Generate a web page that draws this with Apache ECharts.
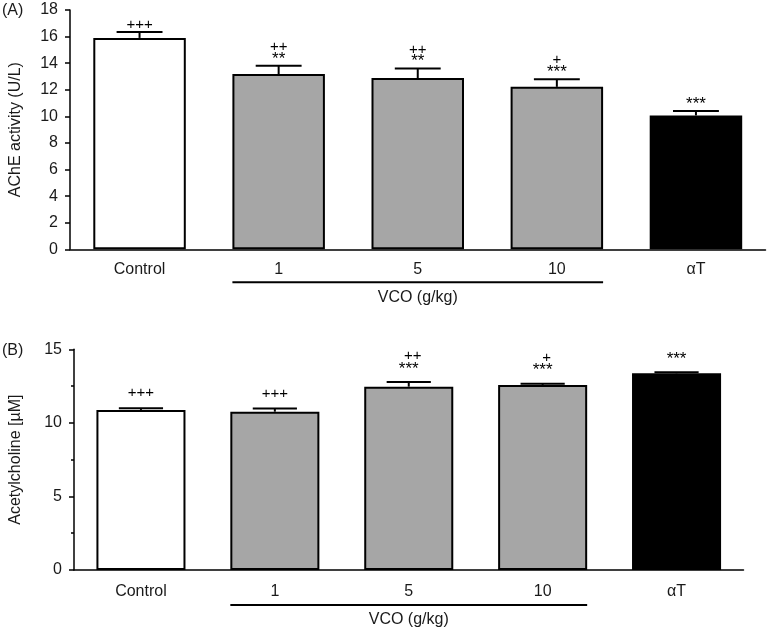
<!DOCTYPE html>
<html>
<head>
<meta charset="utf-8">
<script src="https://cdn.jsdelivr.net/npm/echarts@6/dist/echarts.min.js"></script>
<style>
html,body{margin:0;padding:0;background:#fff;}
#c{width:767px;height:630px;}
</style>
</head>
<body>
<div id="c"></div>
<script>
// ---- data ----
const categories = ['Control', '1', '5', '10', 'αT'];
const acheMean = [15.9, 13.18, 12.88, 12.22, 10.07];
const acheErr = [0.45, 0.62, 0.72, 0.58, 0.34];
const acheStars = ['', '**', '**', '***', '***'];
const achePlus = ['+++', '++', '++', '+', ''];
const achMean = [10.88, 10.76, 12.46, 12.58, 13.37];
const achErr = [0.11, 0.21, 0.32, 0.08, 0.07];
const achStars = ['', '', '***', '***', '***'];
const achPlus = ['+++', '+++', '++', '+', ''];
const barColors = ['#ffffff', '#a6a6a6', '#a6a6a6', '#a6a6a6', '#000000'];
const acheAxis = { min: 0, max: 18, interval: 2, name: 'AChE activity (U/L)' };
const achAxis = { min: 0, max: 15, interval: 5, name: 'Acetylcholine [\u00b5M]' };
const groupLabel = 'VCO (g/kg)';
const panelLabels = ['(A)', '(B)'];

const FONT = '"Liberation Sans", Arial, sans-serif';
const chart = echarts.init(document.getElementById('c'), null, { renderer: 'canvas' });

function xAxisCfg(gi, margin) {
  return {
    type: 'category', gridIndex: gi, data: categories,
    axisLine: { lineStyle: { color: '#000', width: 1.5 } },
    axisTick: { alignWithLabel: true, length: 5, lineStyle: { color: '#000', width: 1.5 } },
    axisLabel: { color: '#1a1a1a', fontSize: 16, fontFamily: FONT, margin: margin }
  };
}
function yAxisCfg(gi, ax, gap, minor) {
  return {
    type: 'value', gridIndex: gi, min: ax.min, max: ax.max, interval: ax.interval,
    name: ax.name, nameLocation: 'middle', nameGap: gap, nameRotate: 90,
    nameTextStyle: { color: '#1a1a1a', fontSize: 16, fontFamily: FONT },
    axisLine: { show: true, lineStyle: { color: '#000', width: 1.5 } },
    axisTick: { show: true, length: 5, lineStyle: { color: '#000', width: 1.5 } },
    minorTick: { show: minor, splitNumber: 2, length: 3, lineStyle: { color: '#000', width: 1.5 } },
    splitLine: { show: false },
    axisLabel: { color: '#1a1a1a', fontSize: 16, fontFamily: FONT, margin: 12 }
  };
}
function barSeries(gi, vals) {
  return {
    type: 'bar', xAxisIndex: gi, yAxisIndex: gi, barCategoryGap: '33.5%',
    data: vals.map((v, i) => ({ value: v, itemStyle: { color: barColors[i] } })),
    itemStyle: { borderColor: '#000', borderWidth: 2 },
    silent: true, animation: false, z: 2
  };
}
function errSeries(gi, mean, err, stars, plus, starOff, plusOff, plusOnly) {
  return {
    type: 'custom', xAxisIndex: gi, yAxisIndex: gi, animation: false, silent: true, z: 5,
    clip: false,
    data: mean.map((m, i) => [i, m, err[i]]),
    renderItem: function (params, api) {
      const i = api.value(0), m = api.value(1), e = api.value(2);
      const p0 = api.coord([i, m]);
      const p1 = api.coord([i, m + e]);
      const band = api.size([1, 0])[0];
      const hw = band * 0.165;
      const style = { stroke: '#000', lineWidth: 2 };
      const ch = [
        { type: 'line', shape: { x1: p0[0], y1: p0[1], x2: p1[0], y2: p1[1] }, style: style },
        { type: 'line', shape: { x1: p1[0] - hw, y1: p1[1], x2: p1[0] + hw, y2: p1[1] }, style: style }
      ];
      const s = stars[i], p = plus[i];
      if (s) {
        ch.push({ type: 'text', style: { text: s, x: p1[0], y: p1[1] - starOff, align: 'center', verticalAlign: 'middle', fontSize: 17, fontFamily: FONT, fill: '#000' } });
        if (p) ch.push({ type: 'text', style: { text: p, x: p1[0] + (gi === 1 ? 4 : 0), y: p1[1] - plusOff, align: 'center', verticalAlign: 'middle', fontSize: 15, fontFamily: FONT, fill: '#000' } });
      } else if (p) {
        ch.push({ type: 'text', style: { text: p, x: p1[0], y: p1[1] - plusOnly, align: 'center', verticalAlign: 'middle', fontSize: 15, fontFamily: FONT, fill: '#000' } });
      }
      return { type: 'group', children: ch };
    }
  };
}

chart.setOption({
  animation: false,
  grid: [
    { left: 65.5, width: 700, top: 10, height: 239.3 },
    { left: 69.3, width: 674.2, top: 349.3, height: 220.7 }
  ],
  xAxis: [xAxisCfg(0, 12), xAxisCfg(1, 14)],
  yAxis: [yAxisCfg(0, acheAxis, 46, false), yAxisCfg(1, achAxis, 50, true)],
  series: [
    barSeries(0, acheMean),
    barSeries(1, achMean),
    errSeries(0, acheMean, acheErr, acheStars, achePlus, 7, 19, 7),
    errSeries(1, achMean, achErr, achStars, achPlus, 13, 26, 15)
  ]
});

// group brackets and panel labels, placed through the chart's own scales
function bracket(gi, yOffset) {
  const a = chart.convertToPixel({ gridIndex: gi }, [1, 0]);
  const b = chart.convertToPixel({ gridIndex: gi }, [3, 0]);
  const c0 = chart.convertToPixel({ gridIndex: gi }, [0, 0]);
  const band = a[0] - c0[0];
  const half = band * 0.3325;
  const y = a[1] + yOffset;
  return [
    { type: 'line', shape: { x1: a[0] - half, y1: y, x2: b[0] + half, y2: y }, style: { stroke: '#000', lineWidth: 2 } },
    { type: 'text', style: { text: groupLabel, x: (a[0] + b[0]) / 2, y: y + 15, align: 'center', verticalAlign: 'middle', fontSize: 16, fontFamily: FONT, fill: '#1a1a1a' } }
  ];
}
function panel(gi, text) {
  const top = chart.convertToPixel({ gridIndex: gi }, [0, gi === 0 ? acheAxis.max : achAxis.max]);
  return { type: 'text', style: { text: text, x: 2, y: top[1] + 1, align: 'left', verticalAlign: 'middle', fontSize: 16, fontFamily: FONT, fill: '#1a1a1a' } };
}
chart.setOption({
  graphic: [].concat(bracket(0, 33), bracket(1, 35), [panel(0, panelLabels[0]), panel(1, panelLabels[1])])
});
</script>
</body>
</html>
